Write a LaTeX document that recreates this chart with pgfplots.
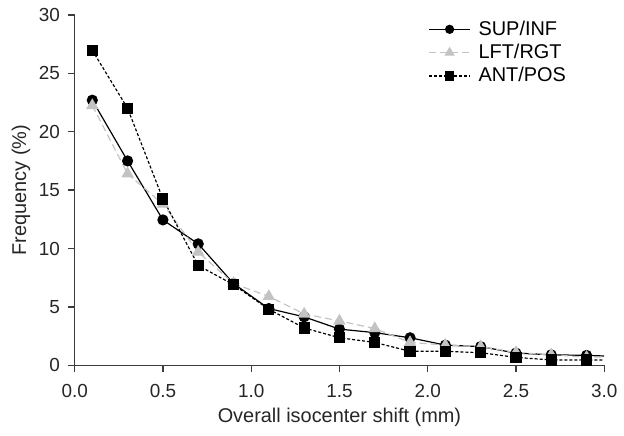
\documentclass[border=0pt]{standalone}
\usepackage{pgfplots}
\pgfplotsset{compat=1.18}
\usepackage{fontspec}
\setmainfont{Liberation Sans}
\definecolor{lgray}{RGB}{195,195,195}
\definecolor{axgray}{RGB}{60,60,60}
\newcommand{\ff}{\fontsize{20bp}{24bp}\selectfont}
\newcommand{\ft}{\fontsize{19bp}{23bp}\selectfont}
\begin{document}
\ff
\begin{tikzpicture}
\begin{axis}[
  width=532bp, height=352bp, scale only axis,
  xmin=0, xmax=3, ymin=0, ymax=30,
  axis x line*=bottom, axis y line*=left,
  axis line style={line width=1.3bp, axgray},
  tick style={line width=1.3bp, axgray},
  tick align=outside, tick pos=left,
  major tick length=7bp,
  xtick={0,0.5,...,3.0}, ytick={0,5,...,30},
  xticklabel style={yshift=-5bp, /pgf/number format/.cd, fixed, fixed zerofill, precision=1},
  yticklabel style={xshift=-1bp},
  /pgf/number format/assume math mode=true,
  ticklabel style={font=\ft, text=black!85},
  xlabel={Overall isocenter shift (mm)},
  ylabel={Frequency (\%)},
  xlabel style={font=\ff, at={(axis description cs:0.5,-0.148)}, anchor=center, text=black!85},
  ylabel style={font=\ff, at={(axis description cs:-0.1015,0.5)}, anchor=center, text=black!85},
  clip=false,
  legend style={at={(axis description cs:0.668,0.99)}, anchor=north west, draw=none, fill=none,
    font=\ff, row sep=2bp, inner sep=0pt},
  legend cell align=left,
  legend image code/.code={
    \draw[#1, mark indices={2}, every mark/.append style={scale=0.8}] plot coordinates {(0bp,0bp) (20.5bp,0bp) (41bp,0bp)};
    \path (47bp,0bp);
  },
]
\addplot[black, line width=1.2bp, mark=*, mark size=5bp, mark indices={1,...,15},
  mark options={solid}] coordinates {
(0.1,22.7)(0.3,17.5)(0.5,12.45)(0.7,10.4)(0.9,7.0)(1.1,4.86)(1.3,4.15)(1.5,3.1)(1.7,2.8)(1.9,2.36)(2.1,1.73)(2.3,1.6)(2.5,1.05)(2.7,0.9)(2.9,0.85)(3.0,0.8)};
\addlegendentry{SUP/INF}
\addplot[lgray, line width=1.2bp, dash pattern=on 7bp off 4bp, mark=triangle*, mark size=6bp, mark indices={1,...,15},
  mark options={solid}] coordinates {
(0.1,22.25)(0.3,16.4)(0.5,13.8)(0.7,9.7)(0.9,7.0)(1.1,5.9)(1.3,4.4)(1.5,3.8)(1.7,3.15)(1.9,1.96)(2.1,1.73)(2.3,1.6)(2.5,1.1)(2.7,0.9)(2.9,0.7)(3.0,0.7)};
\addlegendentry{LFT/RGT}
\addplot[black, line width=1.2bp, dash pattern=on 3bp off 2bp, mark=square*, mark size=5bp, mark indices={1,...,15},
  mark options={solid}] coordinates {
(0.1,26.97)(0.3,22.0)(0.5,14.24)(0.7,8.55)(0.9,6.9)(1.1,4.8)(1.3,3.2)(1.5,2.36)(1.7,1.96)(1.9,1.2)(2.1,1.2)(2.3,1.08)(2.5,0.68)(2.7,0.46)(2.9,0.45)(3.0,0.45)};
\addlegendentry{ANT/POS}
\path (rel axis cs:0,0) ++(-75bp,-71bp) rectangle ++(624bp,438bp);
\end{axis}
\end{tikzpicture}
\end{document}
